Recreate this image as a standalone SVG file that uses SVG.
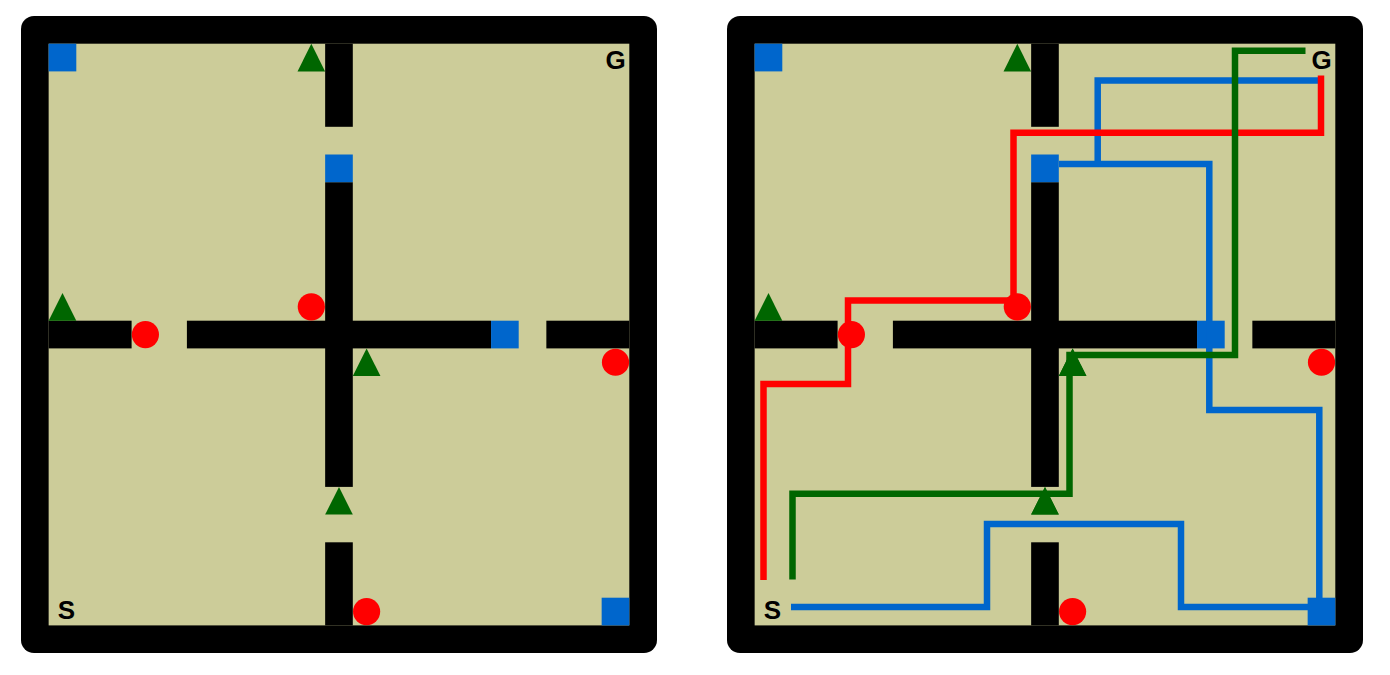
<svg xmlns="http://www.w3.org/2000/svg" xmlns:xlink="http://www.w3.org/1999/xlink" width="1390" height="675" viewBox="0 0 1390 675">
  <style>
    .frame { fill: #000000; }
    .floor { fill: #CCCC99; }
    .wall { fill: #000000; }
    .sq { fill: #0066CC; }
    .tri { fill: #006600; }
    .dot { fill: #FF0000; }
    .lbl { font-family: "Liberation Sans", Arial, sans-serif; font-weight: bold; font-size: 26px; fill: #000000; text-anchor: middle; }
    .route { fill: none; stroke-width: 6.5; stroke-linejoin: miter; stroke-linecap: butt; }
    .blue { stroke: #0066CC; }
    .red { stroke: #FF0000; }
    .green { stroke: #006600; }
  </style>
  <defs>
    <g id="maze">
      <rect class="frame" x="21" y="16" width="636" height="637" rx="13" ry="13"/>
      <rect class="floor" x="48.65" y="43.7" width="580.65" height="581.7"/>
      <g id="walls">
        <rect class="wall" x="325.15" y="43.7" width="27.65" height="83.1"/>
        <rect class="wall" x="325.15" y="182.2" width="27.65" height="304.7"/>
        <rect class="wall" x="325.15" y="542.3" width="27.65" height="83.1"/>
        <rect class="wall" x="48.65" y="320.7" width="82.95" height="27.7"/>
        <rect class="wall" x="186.9" y="320.7" width="304.15" height="27.7"/>
        <rect class="wall" x="546.35" y="320.7" width="82.95" height="27.7"/>
      </g>
      <g id="squares">
        <rect class="sq" x="48.65" y="43.7" width="27.65" height="27.7"/>
        <rect class="sq" x="325.15" y="154.5" width="27.65" height="27.7"/>
        <rect class="sq" x="491.05" y="320.7" width="27.65" height="27.7"/>
        <rect class="sq" x="601.65" y="597.7" width="27.65" height="27.7"/>
      </g>
      <g id="triangles">
        <polygon class="tri" points="297.5,71.4 325.15,71.4 311.3,43.7"/>
        <polygon class="tri" points="48.65,320.7 76.3,320.7 62.5,293"/>
        <polygon class="tri" points="352.8,376.1 380.45,376.1 366.6,348.4"/>
        <polygon class="tri" points="325.15,514.6 352.8,514.6 339,486.9"/>
      </g>
      <g id="dots">
        <circle class="dot" cx="145.4" cy="334.55" r="13.6"/>
        <circle class="dot" cx="311.3" cy="306.85" r="13.6"/>
        <circle class="dot" cx="615.5" cy="362.25" r="13.6"/>
        <circle class="dot" cx="366.6" cy="611.55" r="13.6"/>
      </g>
      <text class="lbl" x="615.5" y="69.3">G</text>
      <text class="lbl" x="66.5" y="619.3">S</text>
    </g>
  </defs>

  <g id="panel-left">
    <use xlink:href="#maze"/>
  </g>

  <g id="panel-right">
    <use xlink:href="#maze" transform="translate(706,0)"/>
  </g>

  <g id="connectors">
    <g id="route-blue">
      <polyline class="route blue" points="791,607 987,607 987,524 1181,524 1181,607 1310,607"/>
      <polyline class="route blue" points="1319.3,598 1319.3,410 1209.3,410 1209.3,164 1059,164"/>
      <polyline class="route blue" points="1097.7,164 1097.7,80.5 1318,80.5"/>
    </g>
    <g id="route-red">
      <polyline class="route red" points="763.5,580 763.5,384 848,384 848,300.5 1013.5,300.5 1013.5,132.7 1321,132.7 1321,75.5"/>
    </g>
    <g id="route-green">
      <polyline class="route green" points="792.5,579.5 792.5,493.7 1069.5,493.7 1069.5,355 1235,355 1235,50.7 1305.5,50.7"/>
      <polygon class="tri" points="1058.8,376.1 1086.45,376.1 1072.6,348.4"/>
      <polygon class="tri" points="1031.15,514.6 1058.8,514.6 1045,486.9"/>
    </g>
  </g>
</svg>
